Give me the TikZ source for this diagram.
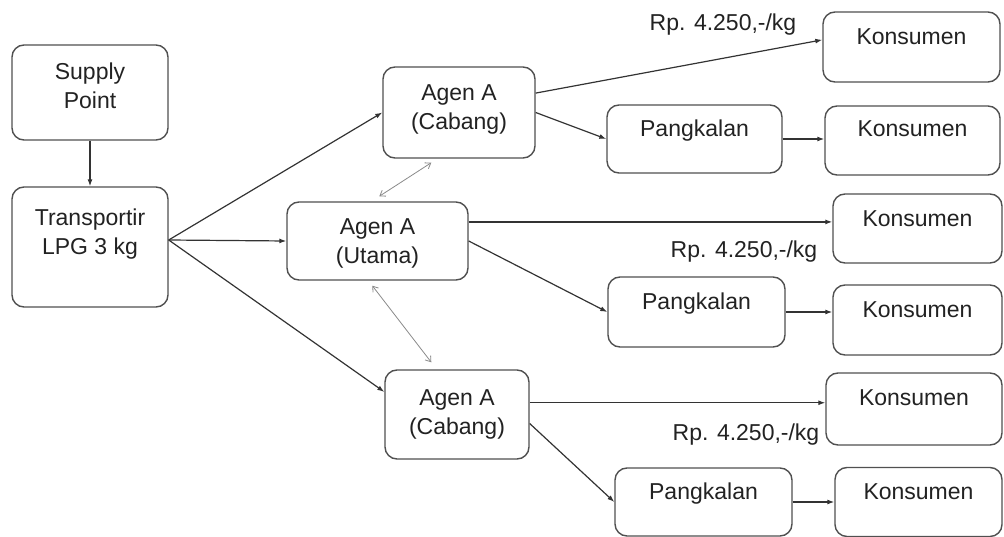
\documentclass[tikz,border=0pt]{standalone}
\usepackage{fontspec}
\setmainfont{Liberation Sans}
\usetikzlibrary{arrows.meta,calc}
\definecolor{boxgray}{HTML}{505050}
\definecolor{linegray}{HTML}{333333}
\definecolor{lightline}{HTML}{8A8A8A}
\definecolor{txt}{HTML}{222222}
\newcommand{\bx}[2]{\raisebox{#1}[0pt][0pt]{\begin{tabular}{@{}c@{}}#2\end{tabular}}}
\begin{document}
\begin{tikzpicture}[x=1pt,y=-1pt,
  box/.style={draw=boxgray, line width=1.4pt, rounded corners=12pt, fill=white,
    inner sep=0pt, font=\fontsize{23}{29}\selectfont, text=txt},
  lbl/.style={inner sep=0pt, font=\fontsize{23}{29}\selectfont, text=txt},
  conn/.style={draw=linegray, line width=1.2pt, -{Latex[length=7pt,width=5pt]}},
  dbl/.style={draw=lightline, line width=0.8pt,
    {Straight Barb[length=5pt,width=7pt]}-{Straight Barb[length=5pt,width=7pt]}}]
\useasboundingbox (0,0) rectangle (1004,537);

% boxes
\node[box, minimum width=156pt, minimum height=95pt]  (sp)  at (90,92.5)   {\bx{-2pt}{Supply\\Point}};
\node[box, minimum width=156pt, minimum height=120pt] (tr)  at (90,247)    {\bx{7pt}{Transportir\\LPG 3 kg}};
\node[box, minimum width=152pt, minimum height=91pt]  (agT) at (459,112.5) {\bx{-3pt}{Agen A\\(Cabang)}};
\node[box, minimum width=181pt, minimum height=78pt]  (ut)  at (377.5,241) {\bx{-8pt}{Agen A\\(Utama)}};
\node[box, minimum width=144pt, minimum height=89pt]  (agB) at (457,414.5) {\bx{-5.5pt}{Agen A\\(Cabang)}};

\node[box, minimum width=175pt, minimum height=68pt] (p1) at (694.5,139) {\bx{2.5pt}{Pangkalan}};
\node[box, minimum width=177pt, minimum height=70pt] (p2) at (696.5,312) {\bx{2pt}{Pangkalan}};
\node[box, minimum width=177pt, minimum height=68pt] (p3) at (703.5,502) {\bx{2.5pt}{Pangkalan}};

\node[box, minimum width=177pt, minimum height=70pt] (k1) at (911.5,47)    {\bx{2pt}{Konsumen}};
\node[box, minimum width=175pt, minimum height=69pt] (k2) at (912.5,140.5) {\bx{4pt}{Konsumen}};
\node[box, minimum width=169pt, minimum height=69pt] (k3) at (917.5,228.5) {\bx{2pt}{Konsumen}};
\node[box, minimum width=169pt, minimum height=70pt] (k4) at (917.5,320)   {\bx{2pt}{Konsumen}};
\node[box, minimum width=176pt, minimum height=72pt] (k5) at (914,409)     {\bx{3pt}{Konsumen}};
\node[box, minimum width=167pt, minimum height=69pt] (k6) at (918.5,502)   {\bx{2pt}{Konsumen}};

% labels
\node[lbl] (l1) at (723,25)  {Rp. 4.250,-/kg};
\node[lbl] (l2) at (744,252) {Rp. 4.250,-/kg};
\node[lbl] (l3) at (746,435) {Rp. 4.250,-/kg};

% connectors
\coordinate (trout) at ($(tr.east)+(0,-7)$);
\draw[conn] (sp.south) -- (tr.north);
\draw[conn] (trout) -- (agT.west);
\draw[conn] (trout) -- (ut.west);
\draw[conn] (trout) -- ($(agB.north west)!0.25!(agB.south west)$);

\draw[conn] ($(agT.north east)!0.29!(agT.south east)$) -- ($(k1.north west)!0.4!(k1.south west)$);
\draw[conn] (agT.east) -- (p1.west);
\draw[conn] (p1.east) -- (p1.east -| k2.west);

\coordinate (utout) at ($(ut.north east)!0.26!(ut.south east)$);
\draw[conn] (utout) -- (utout -| k3.west);
\draw[conn] (ut.east) -- (p2.west);
\draw[conn] (p2.east) -- (p2.east -| k4.west);

\coordinate (agBout) at ($(agB.north east)!0.37!(agB.south east)$);
\draw[conn] (agBout) -- (agBout -| k5.west);
\draw[conn] ($(agB.north east)!0.6!(agB.south east)$) -- (p3.west);
\draw[conn] (p3.east) -- (p3.east -| k6.west);

% double-headed thin links
\draw[dbl] ($(agT.south west)+(49,4)$) -- ($(ut.north west)+(93,-5)$);
\draw[dbl] ($(ut.south west)+(86,5)$) -- ($(agB.north west)+(47,-7)$);
\end{tikzpicture}
\end{document}
